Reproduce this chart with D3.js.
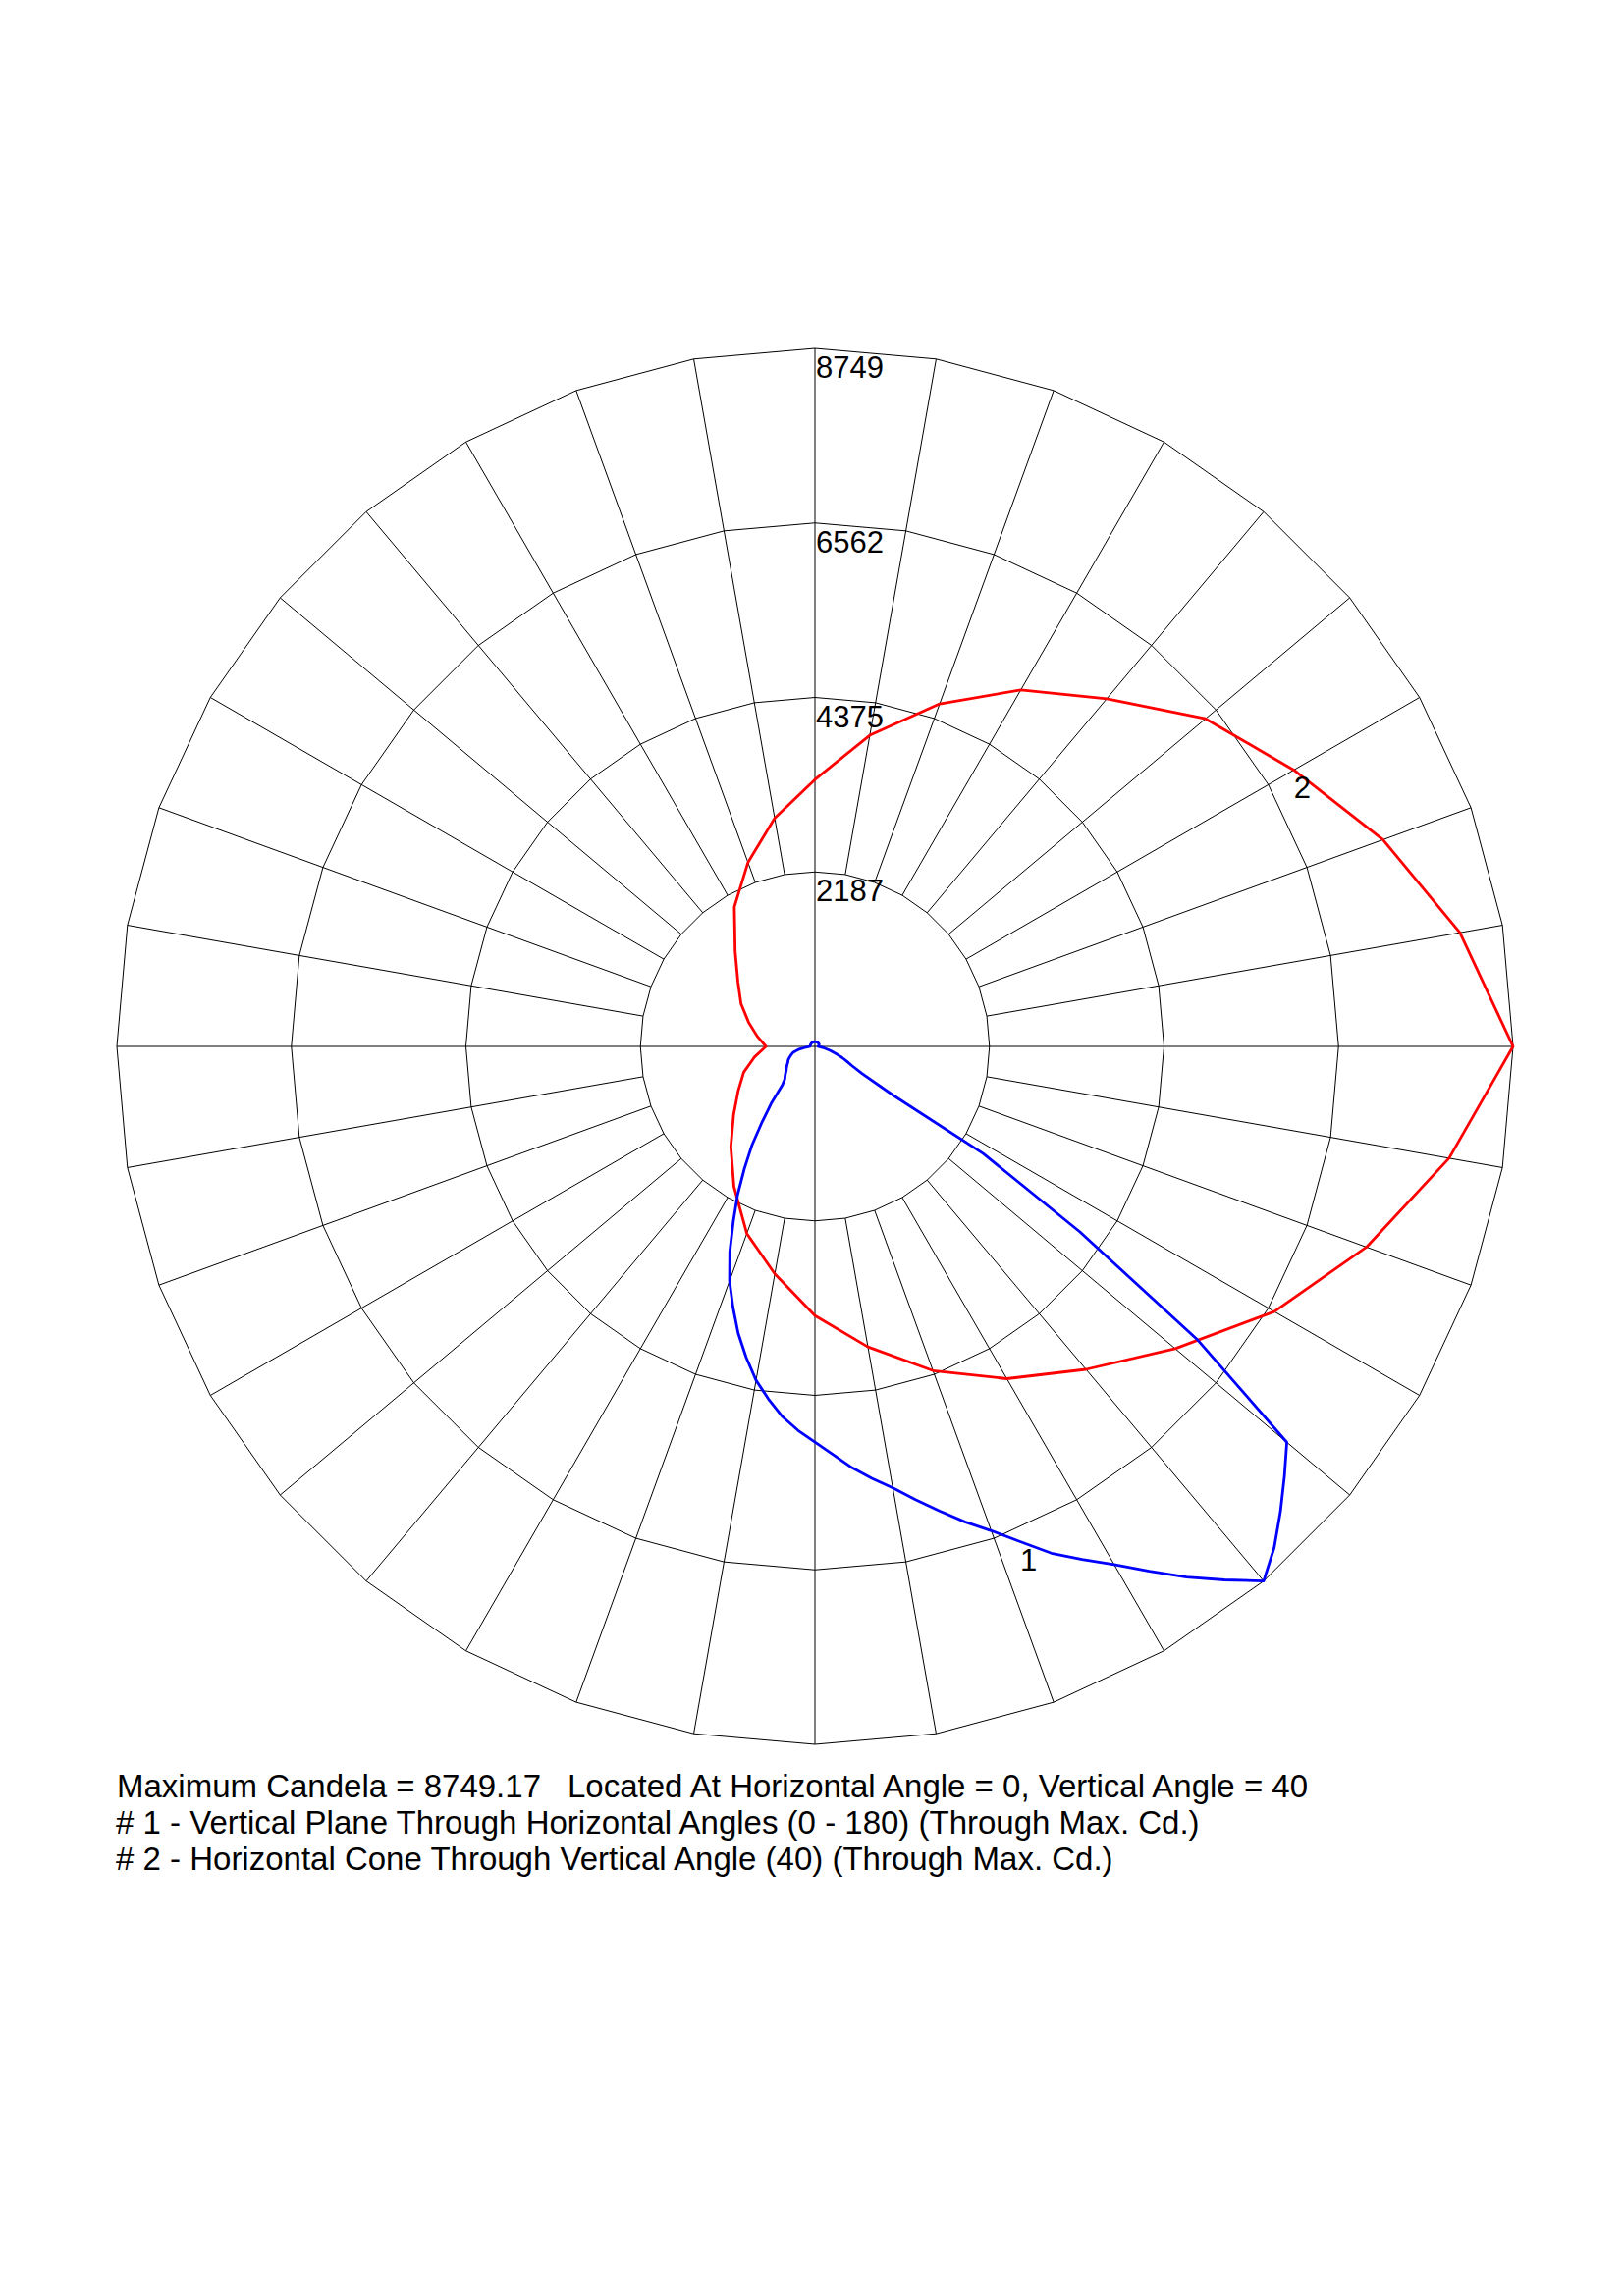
<!DOCTYPE html>
<html><head><meta charset="utf-8">
<script src="https://cdn.jsdelivr.net/npm/d3@7"></script>
<style>html,body{margin:0;padding:0;background:#fff} svg{display:block}</style>
</head><body>
<script>
// ---------------- data ----------------
const maxCandela = 8749.17;
const ringLabels = ["2187", "4375", "6562", "8749"];
const ringFractions = [0.25, 0.5, 0.75, 1];
const gridAngles = d3.range(0, 360, 10);

// #2 Horizontal cone through vertical angle 40 (horizontal angle -> candela)
const redHAngles = d3.range(0, 360, 10);
const redValues = [8749, 8070, 7356, 6648, 5895, 5285, 4810, 4325, 3825, 3375,
                   2895, 2497, 2030, 1640, 1330, 1110, 950, 770, 614, 735,
                   885, 1070, 1260, 1556, 2020, 2454, 2905, 3345, 3960, 4570,
                   5160, 5690, 6390, 6930, 7575, 8208];

// #1 Vertical plane through horizontal angles 0 - 180 (vertical angle -> candela)
const blueVAngles = [0, 2.5, 5, 7.5, 10, 12.5, 15, 17.5, 20, 22.5, 25, 27.5, 30, 32.5, 35, 37.5,
                     40, 42.5, 45, 47.5, 50, 52.5, 55, 57.5, 58, 60, 62.5, 65, 67.5, 70,
                     75, 80, 85, 90, 100, 120, 140, 160, 180];
const blueH0Values = [4960, 5120, 5300, 5460, 5620, 5820, 6030, 6250, 6460, 6720, 7010, 7250, 7500, 7800, 8120, 8430,
                      8749, 8520, 8250, 7980, 7720, 6050, 4050, 2500, 1150, 680, 520, 440, 370, 300,
                      200, 120, 60, 40, 50, 60, 60, 60, 60];
const blueH180Values = [4960, 4820, 4660, 4460, 4250, 3990, 3720, 3420, 3130, 2790, 2420, 2100, 1770, 1470, 1150, 900,
                        640, 560, 530, 500, 470, 450, 430, 410, 405, 390, 380, 360, 340, 320,
                        280, 200, 110, 60, 60, 60, 60, 60, 60];

const infoLine1a = "Maximum Candela = 8749.17";
const infoLine1b = "Located At Horizontal Angle = 0, Vertical Angle = 40";
const infoLine2 = "# 1 - Vertical Plane Through Horizontal Angles (0 - 180) (Through Max. Cd.)";
const infoLine3 = "# 2 - Horizontal Cone Through Vertical Angle (40) (Through Max. Cd.)";

// ---------------- drawing ----------------
const W = 1654, H = 2339, cx = 830, cy = 1066, R = 711;
const FONT = "'Liberation Sans', Arial, Helvetica, sans-serif";

const svg = d3.select("body").append("svg").attr("width", W).attr("height", H);
svg.append("rect").attr("width", W).attr("height", H).attr("fill", "#fff");

const rScale = d3.scaleLinear().domain([0, maxCandela]).range([0, R]);
const rad = d => d * Math.PI / 180;
const g = svg.append("g").attr("transform", `translate(${cx},${cy})`);

const closedRadial = d3.lineRadial().angle(d => rad(d[0])).radius(d => d[1]).curve(d3.curveLinearClosed);
const openRadial = d3.lineRadial().angle(d => rad(d[0])).radius(d => d[1]).curve(d3.curveLinear);

// rings (polygons with a vertex on every 10° spoke)
g.selectAll("path.ring").data(ringFractions).join("path")
  .attr("class", "ring")
  .attr("d", f => closedRadial(gridAngles.map(a => [a, rScale(maxCandela * f)])))
  .attr("fill", "none").attr("stroke", "#000").attr("stroke-width", 1);

// spokes
const innerR = rScale(maxCandela * ringFractions[0]);
g.selectAll("line.spoke").data(gridAngles).join("line")
  .attr("class", "spoke")
  .attr("x1", a => (a % 90 === 0 ? 0 : innerR) * Math.sin(rad(a)))
  .attr("y1", a => -(a % 90 === 0 ? 0 : innerR) * Math.cos(rad(a)))
  .attr("x2", a => R * Math.sin(rad(a)))
  .attr("y2", a => -R * Math.cos(rad(a)))
  .attr("stroke", "#000").attr("stroke-width", 1);

// ring labels
g.selectAll("text.rl").data(ringFractions).join("text")
  .attr("class", "rl")
  .attr("x", 1)
  .attr("y", f => -rScale(maxCandela * f) + 30)
  .attr("font-family", FONT).attr("font-size", 31).attr("fill", "#000")
  .text((f, i) => ringLabels[i]);

// red: horizontal cone, H=0 at the right, increasing clockwise
const redPts = redHAngles.map((h, i) => [90 + h, rScale(redValues[i])]);
g.append("path").attr("d", closedRadial(redPts))
  .attr("fill", "none").attr("stroke", "#ff0000").attr("stroke-width", 2.8)
  .attr("stroke-linejoin", "round");

// blue: vertical plane, nadir down, H=0 on the right, H=180 on the left
const rightPts = blueVAngles.map((v, i) => [180 - v, rScale(blueH0Values[i])]).reverse();
const leftPts = blueVAngles.map((v, i) => [180 + v, rScale(blueH180Values[i])]).slice(1);
g.append("path").attr("d", openRadial(rightPts.concat(leftPts)))
  .attr("fill", "none").attr("stroke", "#0000ff").attr("stroke-width", 2.8)
  .attr("stroke-linejoin", "round");

// curve labels placed at a vertex of each curve
function polarXY(theta, r) { return [r * Math.sin(rad(theta)), -r * Math.cos(rad(theta))]; }
const redLblIdx = redHAngles.indexOf(330);
const p2 = polarXY(90 + 330, rScale(redValues[redLblIdx]));
g.append("text").attr("x", p2[0]).attr("y", p2[1] + 29)
  .attr("font-family", FONT).attr("font-size", 31).attr("fill", "#000").text("2");
const blueLblIdx = blueVAngles.indexOf(22.5);
const p1 = polarXY(180 - 22.5, rScale(blueH0Values[blueLblIdx]));
g.append("text").attr("x", p1[0]).attr("y", p1[1] + 29)
  .attr("font-family", FONT).attr("font-size", 31).attr("fill", "#000").text("1");

// info text
const info = svg.append("g").attr("font-family", FONT).attr("font-size", 33).attr("fill", "#000");
info.append("text").attr("x", 119).attr("y", 1831).text(infoLine1a);
info.append("text").attr("x", 578).attr("y", 1831).text(infoLine1b);
info.append("text").attr("x", 118).attr("y", 1868).text(infoLine2);
info.append("text").attr("x", 118).attr("y", 1905).text(infoLine3);
</script>
</body></html>
